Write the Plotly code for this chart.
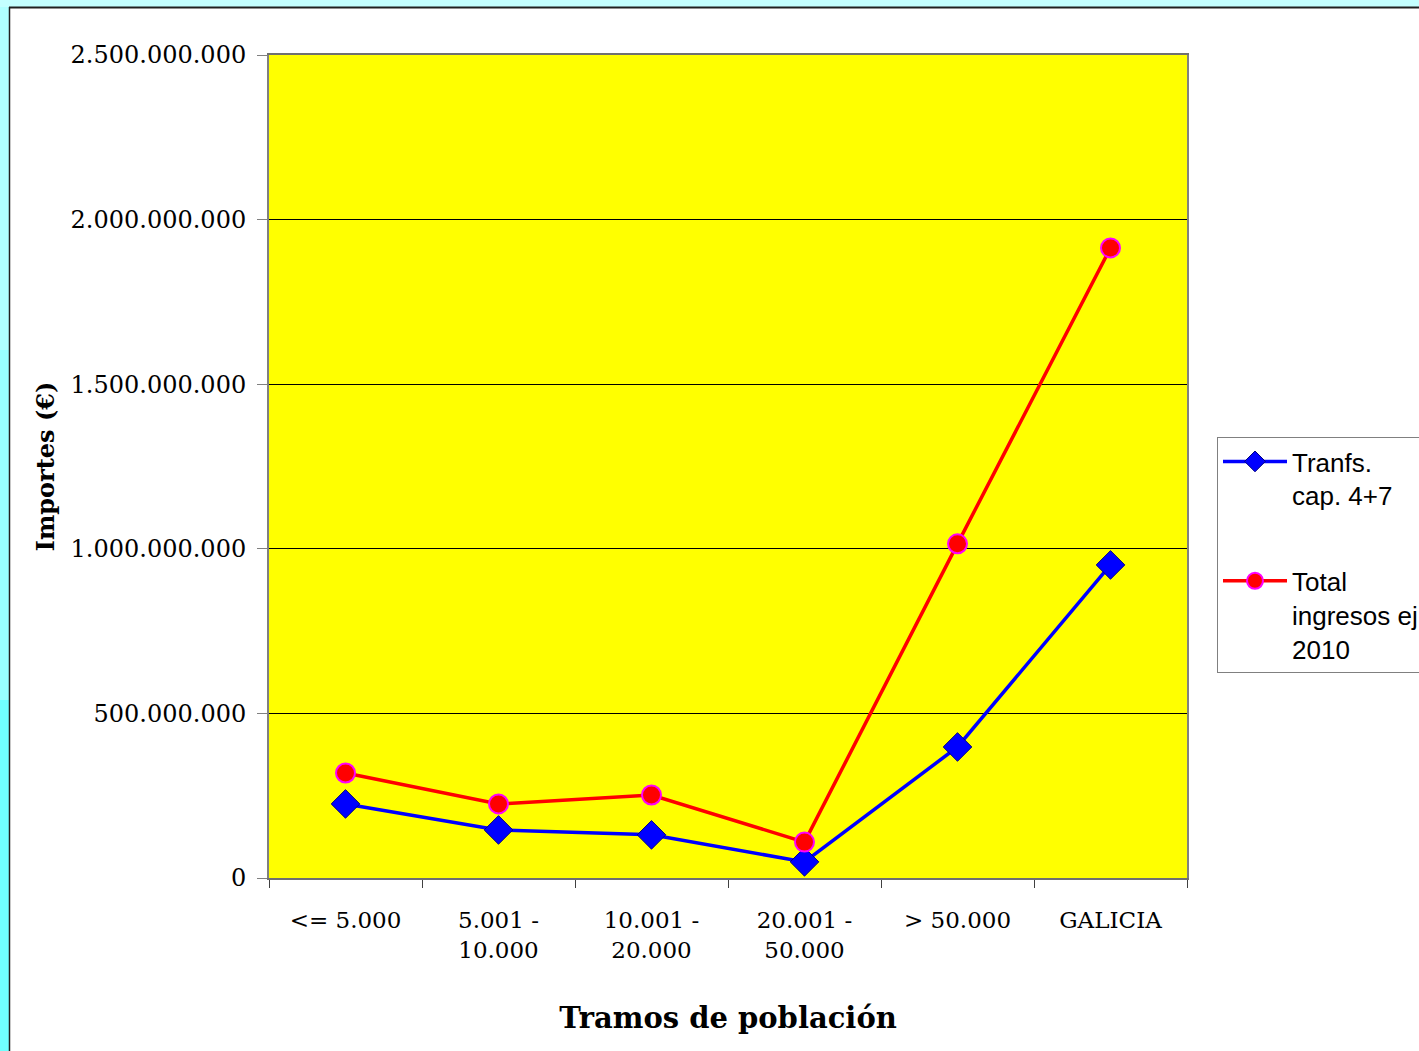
import plotly.graph_objects as go

categories = ["<= 5.000", "5.001 -<br>10.000", "10.001 -<br>20.000", "20.001 -<br>50.000", "> 50.000", "GALICIA"]
transf_values = [225e6, 146e6, 131e6, 49e6, 398e6, 951e6]
total_values = [319e6, 225e6, 252e6, 109e6, 1015e6, 1914e6]
y_tickvals = [0, 500e6, 1000e6, 1500e6, 2000e6, 2500e6]
y_ticktext = ["0", "500.000.000", "1.000.000.000", "1.500.000.000", "2.000.000.000", "2.500.000.000"]
series_names = ["Tranfs.<br>cap. 4+7<br> ", "Total<br>ingresos ej.<br>2010"]

W, H = 1419, 1051
L, R, T, B = 269, 1187, 55, 878
SERIF = "DejaVu Serif"


def px_x(p):
    return (p - L) / (R - L)


def px_y(p):
    return (B - p) / (B - T)


fig = go.Figure()
fig.add_trace(go.Scatter(
    x=categories, y=transf_values, name=series_names[0], mode="lines+markers",
    legendgroup="a",
    line=dict(color="#0000ff", width=3.5),
    marker=dict(symbol="diamond", size=22, color="#0000ff", line=dict(color="#000080", width=1)),
))
fig.add_trace(go.Scatter(
    x=categories, y=total_values, name=series_names[1], mode="lines+markers",
    legendgroup="b",
    line=dict(color="#ff0000", width=3.5),
    marker=dict(symbol="circle", size=19, color="#ff0000", line=dict(color="#ff00ff", width=2)),
))

shapes = [
    # cyan frame
    dict(type="rect", xref="paper", yref="paper", x0=px_x(0), x1=px_x(W),
         y0=px_y(7), y1=px_y(0), fillcolor="#c4ffff", line_width=0, layer="below"),
    dict(type="rect", xref="paper", yref="paper", x0=px_x(0), x1=px_x(9),
         y0=px_y(H), y1=px_y(7), fillcolor="#b0ffff", line_width=0, layer="below"),
    dict(type="rect", xref="paper", yref="paper", x0=px_x(0), x1=px_x(9),
         y0=px_y(H), y1=px_y(350), fillcolor="#98ffff", line_width=0, layer="below"),
    dict(type="rect", xref="paper", yref="paper", x0=px_x(0), x1=px_x(9),
         y0=px_y(H), y1=px_y(700), fillcolor="#70ffff", line_width=0, layer="below"),
    # dark border lines
    dict(type="line", xref="paper", yref="paper", x0=px_x(9), x1=px_x(W),
         y0=px_y(7.5), y1=px_y(7.5), line=dict(color="#202020", width=2), layer="below"),
    dict(type="line", xref="paper", yref="paper", x0=px_x(9.5), x1=px_x(9.5),
         y0=px_y(H), y1=px_y(7), line=dict(color="#202020", width=1.5), layer="below"),
]

fig.update_layout(
    width=W, height=H,
    margin=dict(l=L, r=W - R, t=T, b=H - B, autoexpand=False),
    paper_bgcolor="white",
    plot_bgcolor="#ffff00",
    shapes=shapes,
    showlegend=True,
    legend=dict(
        x=px_x(1217), y=px_y(437), xanchor="left", yanchor="top",
        bgcolor="white", bordercolor="#808080", borderwidth=1,
        font=dict(family="Liberation Sans, Arial", size=26, color="black"),
        valign="top", tracegroupgap=15, itemwidth=64,
    ),
    xaxis=dict(
        type="category", tickson="boundaries", ticks="outside", ticklen=8, tickcolor="#404040",
        showline=True, linecolor="#707070", linewidth=2, mirror=True,
        showgrid=False, tickfont=dict(family=SERIF, size=23, color="black"),
        ticklabelstandoff=20,
        title=dict(text="<b>Tramos de población</b>", standoff=46,
                   font=dict(family=SERIF, size=29, color="black")),
        range=[-0.5, 5.5],
    ),
    yaxis=dict(
        range=[0, 2.5e9], tickvals=y_tickvals, ticktext=y_ticktext,
        ticks="outside", ticklen=10, tickcolor="#808080",
        showline=True, linecolor="#808080", linewidth=2, mirror=True,
        showgrid=True, gridcolor="black", gridwidth=1, zeroline=False,
        tickfont=dict(family=SERIF, size=24, color="black"),
        ticklabelstandoff=6,
        title=dict(text="<b>Importes (€)</b>", standoff=9,
                   font=dict(family=SERIF, size=24, color="black")),
    ),
)

fig.write_html(
    "out.html",
    config={"displayModeBar": False},
    post_script="document.body.style.margin='0px';document.body.style.overflow='hidden';",
)
